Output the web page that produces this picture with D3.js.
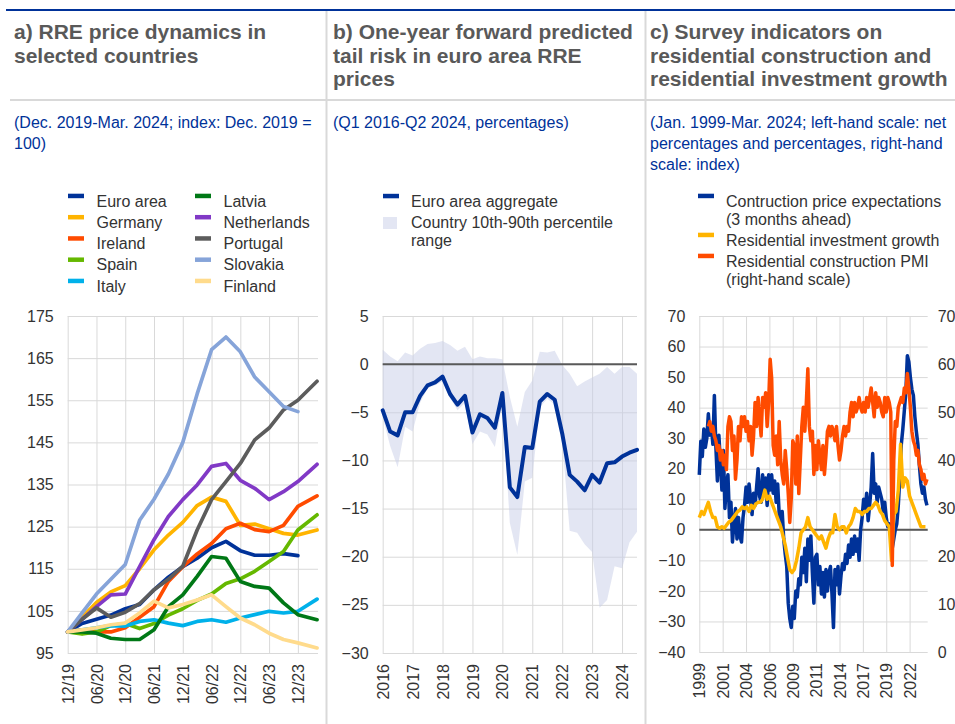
<!DOCTYPE html>
<html>
<head>
<meta charset="utf-8">
<script src="https://cdn.jsdelivr.net/npm/d3@7/dist/d3.min.js"></script>
<style>
  body { margin: 0; background: #fff; }
  svg { display: block; font-family: "Liberation Sans", Arial, sans-serif; }
</style>
</head>
<body>
<svg id="chart" width="955" height="724"></svg>
<script>
// ---------- a) RRE price dynamics (index Dec. 2019 = 100), months after Dec. 2019 ----------
var rreMonths = [0, 3, 6, 9, 12, 15, 18, 21, 24, 27, 30, 33, 36, 39, 42, 45, 48, 52];
var rreTickMonths = [0, 6, 12, 18, 24, 30, 36, 42, 48];
var rreTickLabels = ["12/19", "06/20", "12/20", "06/21", "12/21", "06/22", "12/22", "06/23", "12/23"];
var rreYTicks = [95, 105, 115, 125, 135, 145, 155, 165, 175];

var countries = ["Euro area", "Germany", "Ireland", "Spain", "Italy",
  "Latvia", "Netherlands", "Portugal", "Slovakia", "Finland"];
var euroArea = [100, 102, 103, 104, 105.5, 106.5, 110, 113, 115.5, 117.5, 120, 121.5, 119.3, 118.2, 118.2, 118.6, 118.1];
var germany = [100, 103.5, 107, 109.5, 111, 115, 119.5, 123, 126, 130, 132, 131, 125.3, 125.6, 124.5, 123.4, 123, 124.2];
var ireland = [100, 100.5, 100, 100, 101, 103.5, 106, 112, 115.5, 118.5, 121, 124.5, 125.8, 124.3, 123.8, 125.3, 129.8, 132.3];
var spain = [100, 99.5, 100, 101.5, 102, 100.8, 102, 104, 105.5, 107.5, 109, 111.5, 112.6, 114.4, 116.7, 119.1, 124.2, 127.8];
var italy = [100, 100.5, 101, 101.5, 101.4, 102.5, 102.9, 102.1, 101.5, 102.5, 102.9, 102.3, 103.3, 104.1, 104.9, 104.5, 104.9, 107.8];
var latvia = [100, 100, 99.7, 98.5, 98.2, 98.2, 100.5, 106, 108.8, 113.2, 117.9, 117.5, 112, 110.8, 110.4, 106.9, 104.1, 102.9];
var netherlands = [100, 103, 106, 108.8, 109, 115.5, 121.9, 127.4, 131.4, 134.9, 139.3, 140, 136, 134.1, 131.4, 133.3, 135.7, 139.8];
var portugal = [100, 103, 105.7, 103.5, 104.7, 106.7, 110, 112.5, 115.6, 124.2, 131.4, 135.7, 140, 145.6, 148.4, 152.7, 155, 159.5];
var slovakia = [100, 104.5, 109, 112.5, 116, 126.5, 131.5, 137.5, 145, 156.5, 167, 170, 166.5, 160.5, 157, 153.5, 152.3];
var finland = [100, 100.5, 101, 101.7, 102.1, 104.5, 107.3, 105.7, 106.5, 107.6, 108.8, 106, 103.3, 101.7, 99.7, 98.2, 97.4, 96.2];
var rreSeries = [euroArea, germany, ireland, spain, italy, latvia, netherlands, portugal, slovakia, finland];
var countryColors = ["#003299", "#ffb400", "#ff4b00", "#65b800", "#00b1ea",
  "#007816", "#8139c6", "#5c5c5c", "#86a4d9", "#ffdb8c"];

// ---------- b) one-year forward tail risk, quarterly from Q1 2016 ----------
var tailYears = [2016, 2017, 2018, 2019, 2020, 2021, 2022, 2023, 2024];
var tailYTicks = [-30, -25, -20, -15, -10, -5, 0, 5];
var euroAggregate = [-4.8, -7.0, -7.4, -5.0, -5.0, -3.3, -2.2, -1.9, -1.3, -3.1, -4.2, -3.3,
  -7.1, -5.2, -5.6, -6.6, -3.0, -12.8, -13.8, -8.6, -8.7, -3.9, -3.1, -3.7,
  -7.2, -11.5, -12.2, -13.1, -11.5, -12.3, -10.3, -10.2, -9.6, -9.2, -8.9];
var pct90 = [1.5, 0.8, 0.3, 1.2, 0.9, 1.6, 2.1, 2.2, 2.4, 2.0, 1.4, 1.8,
  0.5, 0.8, 0.6, 0.6, 0.5, -3.4, -6.5, -2.9, -1.7, 1.3, 1.2, 1.4,
  -0.1, -1.0, -2.3, -1.8, -1.4, -1.0, -0.3, -1.0, -0.3, -0.3, -1.0];
var pct10 = [-5.5, -8.5, -10.7, -6.5, -7.0, -4.0, -2.5, -2.2, -1.8, -3.5, -4.8, -4.0,
  -8.3, -7.0, -7.3, -8.6, -4.0, -16.5, -19.8, -12.2, -11.8, -4.5, -3.6, -4.2,
  -8.0, -17.3, -17.5, -18.7, -19.5, -25.3, -24.5, -21.0, -21.2, -18.5, -17.4];

// ---------- c) survey indicators, months after Jan. 1999 ----------
var surveyTickMonths = [0, 31, 62, 93, 124, 155, 186, 217, 248, 279];
var surveyYTicks = [-40, -30, -20, -10, 0, 10, 20, 30, 40, 50, 60, 70];
var pmiTicks = [0, 10, 20, 30, 40, 50, 60, 70];
// construction price expectations, every 2 months from Jan. 1999
var cpeStart = "1999-01";
var cpeValues = [
  18, 29, 24, 33, 27, 30,   38, 31, 34, 28, 44, 27,   16, 31, 22, 13, 26, 7,
  15, 18, 4, 9, -4, 2,      7, -3, 4, -2, -4, 4,      8, 14, 9, 15, 10, 5,
  12, 8, 14, 20, 11, 9,     18, 12, 17, 8, 18, 13,    18, 12, 16, 9, 15, 5,
  3, 6, -3, -8, -12, -24,   -29, -32, -25, -29, -20, -22,  -16, -18, -9, -14, -6, -17,
  -3, -10, -2, -14, -24, -9,  -8, -18, -12, -21, -14, -22,  -13, -20, -14, -12, -21, -32,
  -13, -18, -12, -21, -15, -11,  -13, -8, -11, -5, -9, -3,  -8, -2, -7, -3, -10, 0,
  4, 10, 6, 12, 3, 8,       14, 25, 12, 15, 9, 14,    12, 10, 6, 9, 4, 1,
  2, -2, -6, -3, 0, 2,      8, 17, 28, 33, 39, 45,    57, 55, 50, 46, 44, 37,
  32, 28, 21, 15, 12, 14,   10, 8];
// residential investment growth, quarterly from Q1 1999
var rigStart = "1999-01";
var rigValues = [
  4, 6, 5, 7,  9, 6, 4, 4,  1, 0.5, 1, 0.5,  1.5, 2.5, 3, 4,  5, 6, 6.5, 7.5,
  7, 7.5, 6, 8,  7, 8.5, 9, 9,  10, 13, 10, 11,  9, 7, 5, 3,  1, -2, -5, -9,
  -13, -14, -13, -10,  -6, -1, 0, 1,  4, 1, 0, -1,  -2, -3, -2, -4,  -6, -3, -1, -1,
  5, 1, 0, 1,  1, -1, 1, 2,  4, 7, 6, 6,  5, 6, 6, 7,  7, 8, 9, 8,
  6, 5, 3, 2,  1, -10, 5, 6,  13, 28, 14, 17,  16, 11, 9, 7,  5, 3, 1, 1,  1];
// residential construction PMI (right-hand scale), every 2 months from Jan. 2000
var pmiStart = "2000-01";
var pmiValues = [
  47, 48, 46, 47, 45, 44,  42, 43, 40, 42, 39, 41,  38, 47, 49, 48, 42, 45,
  36, 40, 47, 44, 49, 47,  49, 46, 48, 44, 47, 41,  45, 52, 47, 53, 49, 45,
  53, 51, 54, 47, 52, 61,  57, 43, 41, 45, 39, 48,  40, 37, 35, 42, 38, 33,
  27, 32, 44, 43, 35, 45,  33, 40, 47, 51, 46, 52,  59, 47, 44, 46, 37, 43,
  38, 44, 41, 38, 43, 37,  41, 46, 47, 45, 47, 46,  44, 47, 43, 40, 42, 45,
  47, 45, 47, 46, 50, 52,  49, 52, 50, 51, 53, 51,  50, 52, 50, 53, 51, 53,
  55, 52, 49, 54, 51, 53,  52, 50, 49, 53, 50, 53,  52, 50, 18, 40, 48, 47,
  51, 52, 53, 52, 55, 54,  58, 55, 51, 46, 44, 43,  41, 42, 39, 38, 36, 37,
  35, 36];

var svg = d3.select("#chart");
var gridColor = "#d9d9d9",
  textColor = "#333333",
  ecbBlue = "#003299";

function styleAxis(sel) {
  sel.attr("font-family", null).attr("font-size", 16);
  sel.select(".domain").remove();
  sel.selectAll("line").attr("stroke", gridColor);
  sel.selectAll("text").attr("fill", textColor);
}

function drawGrid(x, y, xTicks, xFormat, yTicks) {
  var x0 = x.range()[0], x1 = x.range()[1],
    yTop = y.range()[1], yBot = y.range()[0];

  svg.append("g")
    .attr("transform", "translate(" + x0 + ",0)")
    .call(d3.axisLeft(y).tickValues(yTicks).tickSize(-(x1 - x0)).tickPadding(14))
    .call(styleAxis);

  svg.append("g")
    .attr("transform", "translate(0," + yBot + ")")
    .call(d3.axisBottom(x).tickValues(xTicks).tickFormat(xFormat).tickSize(-(yBot - yTop)))
    .call(styleAxis)
    .selectAll("text")
    .attr("transform", "rotate(-90)")
    .attr("text-anchor", "end")
    .attr("x", -11)
    .attr("y", 0)
    .attr("dy", "0.35em");
}

function textLines(x, y0, lines, lh, attrs) {
  var t = svg.append("text").attr("x", x).attr("y", y0);
  Object.keys(attrs).forEach(function (k) { t.attr(k, attrs[k]); });
  lines.forEach(function (s, i) {
    t.append("tspan").attr("x", x).attr("y", y0 + i * lh).text(s);
  });
}

function monthIndex(s, base) {
  var p = s.split("-"), b = base.split("-");
  return (+p[0] - +b[0]) * 12 + (+p[1] - +b[1]);
}

// ---------- frame, titles, subtitles ----------
function frame() {
  svg.append("line").attr("x1", 6).attr("x2", 955).attr("y1", 10).attr("y2", 10)
    .attr("stroke", ecbBlue).attr("stroke-width", 2);
  svg.append("line").attr("x1", 10).attr("x2", 955).attr("y1", 100).attr("y2", 100)
    .attr("stroke", gridColor).attr("stroke-width", 2);
  [326.5, 645.5].forEach(function (sx) {
    svg.append("line").attr("x1", sx).attr("x2", sx).attr("y1", 11).attr("y2", 724)
      .attr("stroke", gridColor).attr("stroke-width", 2);
  });

  var titles = [
    [14, ["a) RRE price dynamics in", "selected countries"]],
    [333, ["b) One-year forward predicted", "tail risk in euro area RRE", "prices"]],
    [650, ["c) Survey indicators on", "residential construction and", "residential investment growth"]]
  ];
  titles.forEach(function (t) {
    textLines(t[0], 39, t[1], 23.5, { "font-size": 21, "font-weight": "bold", fill: "#595959" });
  });

  var subtitles = [
    [14, ["(Dec. 2019-Mar. 2024; index: Dec. 2019 =", "100)"]],
    [333, ["(Q1 2016-Q2 2024, percentages)"]],
    [650, ["(Jan. 1999-Mar. 2024; left-hand scale: net", "percentages and percentages, right-hand", "scale: index)"]]
  ];
  subtitles.forEach(function (t) {
    textLines(t[0], 128, t[1], 21, { "font-size": 16, fill: ecbBlue });
  });
}

// ---------- panel a ----------
function panelA() {
  var x = d3.scaleLinear().domain([0, 52.2]).range([67.7, 318]);
  var y = d3.scaleLinear().domain([95, 175]).range([653, 316]);

  drawGrid(x, y, rreTickMonths, function (d, i) { return rreTickLabels[i]; }, rreYTicks);

  var line = d3.line()
    .x(function (d, i) { return x(rreMonths[i]); })
    .y(function (d) { return y(d); });

  svg.append("g")
    .selectAll("path")
    .data(rreSeries)
    .enter().append("path")
    .attr("d", line)
    .attr("fill", "none")
    .attr("stroke", function (d, i) { return countryColors[i]; })
    .attr("stroke-width", 3.7)
    .attr("stroke-linejoin", "round")
    .attr("stroke-linecap", "round");

  var legend = svg.append("g").attr("font-size", 16).attr("fill", textColor);
  countries.forEach(function (name, i) {
    var lx = i < 5 ? 68 : 195,
      ty = 206.7 + (i % 5) * 21.25;
    legend.append("rect").attr("x", lx).attr("y", ty - 13).attr("width", 16).attr("height", 4.5)
      .attr("fill", countryColors[i]);
    legend.append("text").attr("x", lx + 28.5).attr("y", ty).text(name);
  });
}

// ---------- panel b ----------
function panelB() {
  var x = d3.scaleLinear().domain([2016, 2024.5]).range([382.7, 637]);
  var y = d3.scaleLinear().domain([-30, 5]).range([653, 316]);
  var qt = function (i) { return 2016 + i / 4; };

  drawGrid(x, y, tailYears, d3.format("d"), tailYTicks);

  var area = d3.area()
    .x(function (d, i) { return x(qt(i)); })
    .y0(function (d, i) { return y(pct10[i]); })
    .y1(function (d) { return y(d); });

  svg.append("path")
    .datum(pct90)
    .attr("d", area)
    .attr("fill", "#c7cde7")
    .attr("fill-opacity", 0.5);

  svg.append("line")
    .attr("x1", x.range()[0]).attr("x2", x.range()[1])
    .attr("y1", y(0)).attr("y2", y(0))
    .attr("stroke", "#595959").attr("stroke-width", 2);

  svg.append("path")
    .datum(euroAggregate)
    .attr("d", d3.line().x(function (d, i) { return x(qt(i)); }).y(function (d) { return y(d); }))
    .attr("fill", "none")
    .attr("stroke", ecbBlue)
    .attr("stroke-width", 4)
    .attr("stroke-linejoin", "round")
    .attr("stroke-linecap", "round");

  var legend = svg.append("g").attr("font-size", 16).attr("fill", textColor);
  legend.append("rect").attr("x", 383).attr("y", 193.8).attr("width", 16).attr("height", 4.5).attr("fill", ecbBlue);
  legend.append("text").attr("x", 411).attr("y", 206.7).text("Euro area aggregate");
  legend.append("rect").attr("x", 383).attr("y", 217).attr("width", 14).attr("height", 12)
    .attr("fill", "#c7cde7").attr("fill-opacity", 0.5);
  legend.append("text").attr("x", 411).attr("y", 227.7).text("Country 10th-90th percentile");
  legend.append("text").attr("x", 411).attr("y", 245.5).text("range");
}

// ---------- panel c ----------
function panelC() {
  var x = d3.scaleLinear().domain([0, 303]).range([699.3, 927.7]);
  var y = d3.scaleLinear().domain([-40, 70]).range([652, 316]);
  var yR = d3.scaleLinear().domain([0, 70]).range([652, 316]);

  drawGrid(x, y, surveyTickMonths, function (d) { return 1999 + Math.floor(d / 12); }, surveyYTicks);

  // right-hand scale runs past the picture edge, as in the original
  svg.append("g")
    .attr("transform", "translate(" + x.range()[1] + ",0)")
    .call(d3.axisRight(yR).tickValues(pmiTicks).tickSize(0).tickPadding(10))
    .call(styleAxis);

  svg.append("line")
    .attr("x1", x.range()[0]).attr("x2", x.range()[1])
    .attr("y1", y(0)).attr("y2", y(0))
    .attr("stroke", "#595959").attr("stroke-width", 2);

  var base = "1999-01";
  var series = [
    { values: cpeValues, start: monthIndex(cpeStart, base), step: 2, scale: y, color: ecbBlue },
    { values: rigValues, start: monthIndex(rigStart, base), step: 3, scale: y, color: "#ffb400" },
    { values: pmiValues, start: monthIndex(pmiStart, base), step: 2, scale: yR, color: "#ff4b00" }
  ];

  series.forEach(function (s) {
    svg.append("path")
      .datum(s.values)
      .attr("d", d3.line()
        .x(function (d, i) { return x(Math.min(s.start + i * s.step, 303)); })
        .y(function (d) { return s.scale(d); }))
      .attr("fill", "none")
      .attr("stroke", s.color)
      .attr("stroke-width", 3.5)
      .attr("stroke-linejoin", "round");
  });

  var items = [
    [ecbBlue, ["Contruction price expectations", "(3 months ahead)"]],
    ["#ffb400", ["Residential investment growth"]],
    ["#ff4b00", ["Residential construction PMI", "(right-hand scale)"]]
  ];
  var legend = svg.append("g").attr("font-size", 16).attr("fill", textColor);
  var ty = 206.7;
  items.forEach(function (it) {
    legend.append("rect").attr("x", 698).attr("y", ty - 13).attr("width", 16).attr("height", 4.5)
      .attr("fill", it[0]);
    it[1].forEach(function (s, j) {
      legend.append("text").attr("x", 726).attr("y", ty + j * 18).text(s);
    });
    ty += (it[1].length - 1) * 18 + 21;
  });
}

frame();
panelA();
panelB();
panelC();
</script>
</body>
</html>
